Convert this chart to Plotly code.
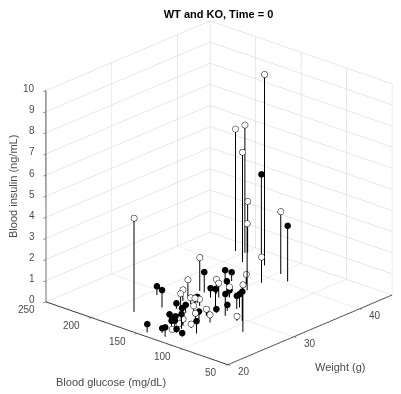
import plotly.graph_objects as go

# Open markers
open_weight = [24.04,42.99,43.3,41.3,43.5,36.03,37.2,42.15,38.5,41.5,32.67,30.53,29.54,28.07,33.2,32.64,33.37,27.53,29.29,28.19,27.11,28.79,27.32,26.06,29.48,29.7,24.16,22.5,24.78,24.63]
open_glucose = [182.3,207.6,199.5,187.7,197.9,144.6,153.9,169.6,146.6,147.1,172.3,170,168.3,160.2,158.1,151.3,144.8,87.8,107.1,132.8,121,149.7,140.5,129.5,159.4,151.1,133.7,129.4,125,132.7]
open_insulin = [4.44,5.78,6.05,5.2,2.43,3.16,0.46,9.04,1.22,2.97,1.58,0.85,0.53,0.66,0.7,0.69,0.51,2.23,0.22,0.32,0.37,0.51,0.48,0.46,0.3,0.32,0.16,0.16,0.18,0.32]
# Filled markers
fill_weight = [40.49,44.17,28.89,26.8,20.86,21.82,21.24,27.52,25.08,24.69,25.09,23.84,23.87,26.53,27.37,23.93,22.8,22.4,24.03,26.9,29.99,30.13,32.63,32.08,30.45,29.46,35.77,36.81,33.33,33.51,29.48,30.6,31.65,32.09,29.65]
fill_glucose = [132.3,187.6,192.2,171.5,144.9,135.4,127.9,160.9,150.9,144.8,144.4,139.7,136.3,147.6,149.6,129.4,126.7,117.6,113.6,131.6,158,156.8,167.2,156.3,139,131,166.9,167.2,147.4,145.8,121.3,127.2,124.3,124.5,103.9]
fill_insulin = [2.65,3.78,0.43,0.83,0.4,0.22,0.45,0.27,0.22,0.21,0.22,0.24,0.29,0.37,0.38,0.7,0.18,0.18,0.59,0.4,0.25,0.29,0.98,0.45,0.88,0.18,0.66,0.42,0.75,0.32,1.04,0.29,0.62,0.64,1.39]

weight_ticks = [20, 30, 40]
glucose_ticks = [50, 100, 150, 200, 250]
insulin_ticks = list(range(0, 11))
weight_range = [20, 45]
glucose_range = [50, 250]
insulin_range = [0, 10]

TXT = "#4a4a4a"
GRID = "#d2d2d2"
AXIS = "#333333"


def stems(w, g, i):
    xs, ys, zs = [], [], []
    for a, b, c in zip(w, g, i):
        xs += [a, a, None]
        ys += [b, b, None]
        zs += [0, c, None]
    return xs, ys, zs


fig = go.Figure()
sx, sy, sz = stems(open_weight + fill_weight, open_glucose + fill_glucose, open_insulin + fill_insulin)
fig.add_trace(go.Scatter3d(x=sx, y=sy, z=sz, mode="lines", line=dict(color="#000000", width=2),
                           hoverinfo="skip", showlegend=False))
# back corner edge of the box
fig.add_trace(go.Scatter3d(x=[weight_range[1]] * 2, y=[glucose_range[1]] * 2, z=insulin_range, mode="lines",
                           line=dict(color=GRID, width=1), hoverinfo="skip", showlegend=False))
fig.add_trace(go.Scatter3d(x=fill_weight, y=fill_glucose, z=fill_insulin, mode="markers",
                           marker=dict(size=3.8, color="black", line=dict(color="black", width=0)), showlegend=False))
fig.add_trace(go.Scatter3d(x=open_weight, y=open_glucose, z=open_insulin, mode="markers",
                           marker=dict(size=3.6, color="white", line=dict(color="black", width=1.8)), showlegend=False))

ann = []
for v in insulin_ticks:
    ann.append(dict(x=weight_range[0], y=glucose_range[1], z=v, text=str(v), showarrow=False, xanchor="right",
                    xshift=-9, yshift=2, font=dict(family="Liberation Sans", size=10, color=TXT)))
for v in glucose_ticks:
    ann.append(dict(x=weight_range[0], y=v, z=0, text=str(v), showarrow=False, xanchor="right",
                    xshift=-9, yshift=-8, font=dict(family="Liberation Sans", size=10, color=TXT)))
for v in weight_ticks:
    ann.append(dict(x=v, y=glucose_range[0], z=0, text=str(v), showarrow=False, xanchor="left",
                    xshift=8, yshift=-7, font=dict(family="Liberation Sans", size=10, color=TXT)))


def axis(vals, rng, lw=2, lc=AXIS):
    return dict(range=rng, tickvals=vals, showticklabels=False, title=dict(text=""), showgrid=True, gridcolor=GRID,
                gridwidth=1, showline=True, linecolor=lc, linewidth=lw, ticks="outside", ticklen=4,
                tickcolor=AXIS, tickwidth=1, zeroline=False, showbackground=False, showspikes=False, autorange=False)


W, H = 393, 386  # the page has an 8 px body margin


def px(X):
    return (X - 8) / W


def py(Y):
    return 1 - (Y - 8) / H


e = (-0.686, -0.619, 0.383)
k = 1.724
zoom = 1.27
cz = -0.046
fig.update_layout(
    width=W, height=H, autosize=False, margin=dict(l=0, r=0, t=0, b=0), paper_bgcolor="white",
    font=dict(family="Liberation Sans", color=TXT),
    title=dict(text="<b>WT and KO, Time = 0</b>", x=px(218.5), y=py(14), xanchor="center", yanchor="middle",
               font=dict(family="Liberation Sans", size=11, color="black")),
    scene=dict(
        domain=dict(x=[34 / W, 388 / W], y=[0, 1]),
        xaxis=axis(weight_ticks, weight_range),
        yaxis=axis(glucose_ticks, glucose_range),
        zaxis=axis(insulin_ticks, insulin_range, 3, "#8c8c8c"),
        aspectmode="manual", aspectratio=dict(x=zoom, y=zoom, z=0.933 * zoom),
        camera=dict(eye=dict(x=e[0] * k, y=e[1] * k, z=e[2] * k + cz), center=dict(x=0, y=0, z=cz),
                    up=dict(x=0, y=0, z=1), projection=dict(type="orthographic")),
        annotations=ann,
    ),
    annotations=[
        dict(x=px(110.5), y=py(381.5), xref="paper", yref="paper", text="Blood glucose (mg/dL)", showarrow=False,
             xanchor="center", yanchor="middle", font=dict(family="Liberation Sans", size=11, color=TXT)),
        dict(x=px(340), y=py(366.7), xref="paper", yref="paper", text="Weight (g)", showarrow=False,
             xanchor="center", yanchor="middle", font=dict(family="Liberation Sans", size=11, color=TXT)),
        dict(x=px(13), y=py(187), xref="paper", yref="paper", text="Blood insulin (ng/mL)", showarrow=False,
             xanchor="center", yanchor="middle", textangle=-90, font=dict(family="Liberation Sans", size=11, color=TXT)),
    ],
)
fig.write_html("out.html", config=dict(displayModeBar=False))
